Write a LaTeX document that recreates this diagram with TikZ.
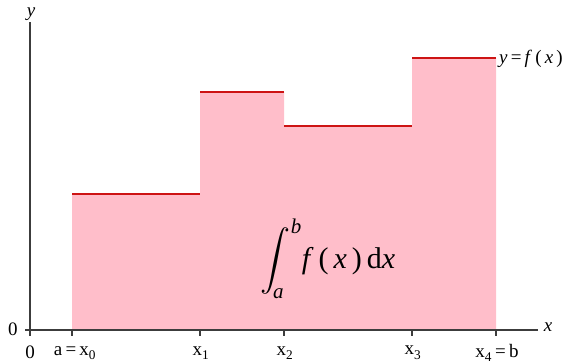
\documentclass[tikz,border=0pt]{standalone}
\usepackage{fontspec}
\setmainfont{Liberation Serif}
\usepackage{unicode-math}
\setmathfont{Latin Modern Math}
\definecolor{areapink}{RGB}{255,190,202}
\definecolor{stepred}{RGB}{205,20,20}
\definecolor{axisgray}{RGB}{60,60,60}
\begin{document}
\begin{tikzpicture}[x=1pt,y=-1pt,
  axis/.style={axisgray,line width=1.4pt},
  tick/.style={axisgray,line width=1.1pt},
  lbl/.style={font=\fontsize{19}{21}\selectfont,inner sep=0pt},
  steptop/.style={stepred,line width=1.2pt}]
\useasboundingbox (0,0) rectangle (571,364);
% area
\fill[areapink] (72,330) -- (72,194) -- (200,194) -- (200,92) -- (284,92) -- (284,126) -- (412,126) -- (412,58) -- (496,58) -- (496,330) -- cycle;
% step tops
\draw[steptop] (72,194) -- (200,194);
\draw[steptop] (200,92) -- (284,92);
\draw[steptop] (284,126) -- (412,126);
\draw[steptop] (412,58) -- (496,58);
% axes
\coordinate (O) at (30,330);
\coordinate (xe) at (538,330);
\coordinate (ye) at (30,22);
\draw[axis] (O) -- (xe);
\draw[axis] (O) -- (ye);
\draw[tick] (O) -- ++(-5,0);
\foreach \t in {30,72,200,284,412,496} \draw[tick] (\t,330) -- (\t,336);
% labels
\node[lbl] (xl) at (548,327) {\textit{x}};
\node[lbl] (yl) at (31,14) {\textit{y}};
\node[lbl] (z1) at (13,329) {0};
\node[lbl] (z2) at (30,352) {0};
\node[lbl] (a0) at (75,353) {a\,=\,x\textsubscript{0}};
\node[lbl] (x1) at (201,353) {x\textsubscript{1}};
\node[lbl] (x2) at (285,353) {x\textsubscript{2}};
\node[lbl] (x3) at (413,353) {x\textsubscript{3}};
\node[lbl] (x4) at (497,353) {x\textsubscript{4}\,=\,b};
\node[lbl,anchor=west] (fl) at (499,59) {\textit{y}\,=\,\textit{f}\,(\,\textit{x}\,)};
\node[inner sep=0pt,font=\fontsize{30}{34}\selectfont] (int) at (328,259)
  {$\displaystyle\int_{\textit{a}}^{\textit{b}}$\textit{f}\,(\,\textit{x}\,)\,d\textit{x}};
\end{tikzpicture}
\end{document}
